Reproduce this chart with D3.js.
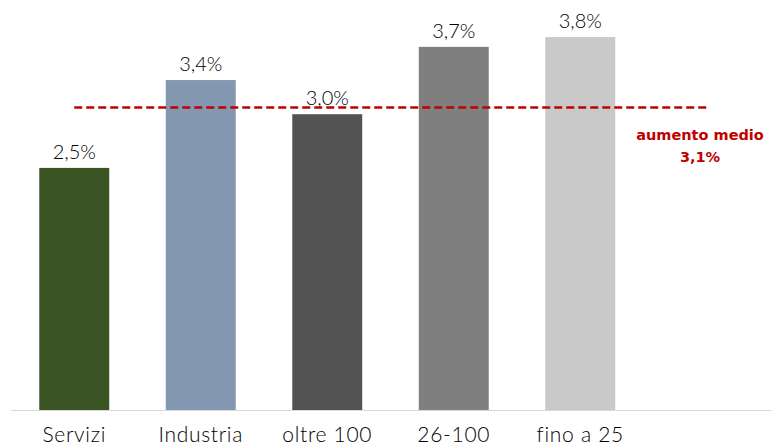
<!DOCTYPE html>
<html>
<head>
<meta charset="utf-8">
<script src="https://cdn.jsdelivr.net/npm/d3@7"></script>
<style>
  html, body { margin: 0; padding: 0; background: #fff; }
  svg { display: block; font-family: "Lato", "Open Sans", sans-serif; }
</style>
</head>
<body>
<svg id="chart" width="772" height="447"></svg>
<script>
const categories = ["Servizi", "Industria", "oltre 100", "26-100", "fino a 25"];
const values = [2.48, 3.38, 3.03, 3.72, 3.82];
const valueLabels = ["2,5%", "3,4%", "3,0%", "3,7%", "3,8%"];
const barColors = ["#3a5424", "#8497b0", "#535353", "#7f7f7f", "#c9c9c9"];
const meanValue = 3.1;
const meanLabel = ["aumento medio", "3,1%"];

const svg = d3.select("#chart");
const baseY = 410;

const x = d3.scaleBand()
  .domain([...categories, "_empty"])
  .range([11, 770])
  .paddingInner(0.447)
  .paddingOuter(0.2235);

const y = d3.scaleLinear().domain([0, 4.2]).range([baseY, 0]);

// bars
svg.selectAll("rect.bar")
  .data(categories)
  .enter().append("rect")
  .attr("class", "bar")
  .attr("x", d => x(d))
  .attr("width", x.bandwidth())
  .attr("y", (d, i) => y(values[i]))
  .attr("height", (d, i) => baseY - y(values[i]))
  .attr("fill", (d, i) => barColors[i]);

// axis
const xAxis = d3.axisBottom(x).tickSize(0).tickPadding(17)
  .tickFormat(d => d === "_empty" ? "" : d);
const gx = svg.append("g").attr("transform", `translate(0,${baseY})`).call(xAxis);
gx.select(".domain").attr("stroke", "#d9d9d9").attr("stroke-width", 1.2)
  .attr("d", `M11,0.5H772`);
gx.selectAll("text")
  .attr("font-size", 21)
  .attr("font-weight", 300)
  .attr("letter-spacing", 0.7)
  .attr("fill", "#000")
  .attr("font-family", "\"Lato\", \"Open Sans\", sans-serif");

// value labels
svg.selectAll("text.val")
  .data(categories)
  .enter().append("text")
  .attr("class", "val")
  .attr("x", d => x(d) + x.bandwidth() / 2)
  .attr("y", (d, i) => y(values[i]) - 9)
  .attr("text-anchor", "middle")
  .attr("font-size", 20)
  .attr("font-weight", 300)
  .attr("fill", "#000")
  .text((d, i) => valueLabels[i]);

// mean line
svg.append("line")
  .attr("x1", x(categories[0]) + x.bandwidth() / 2)
  .attr("x2", 708)
  .attr("y1", y(meanValue))
  .attr("y2", y(meanValue))
  .attr("stroke", "#c00000")
  .attr("stroke-width", 2.5)
  .attr("stroke-dasharray", "8,4");

const lblX = 700;
svg.selectAll("text.mean")
  .data(meanLabel)
  .enter().append("text")
  .attr("class", "mean")
  .attr("x", lblX)
  .attr("y", (d, i) => 140 + i * 22)
  .attr("text-anchor", "middle")
  .attr("font-size", 14.5)
  .attr("font-weight", "bold")
  .attr("font-family", "\"DejaVu Sans\", sans-serif")
  .attr("fill", "#c00000")
  .text(d => d);
</script>
</body>
</html>
